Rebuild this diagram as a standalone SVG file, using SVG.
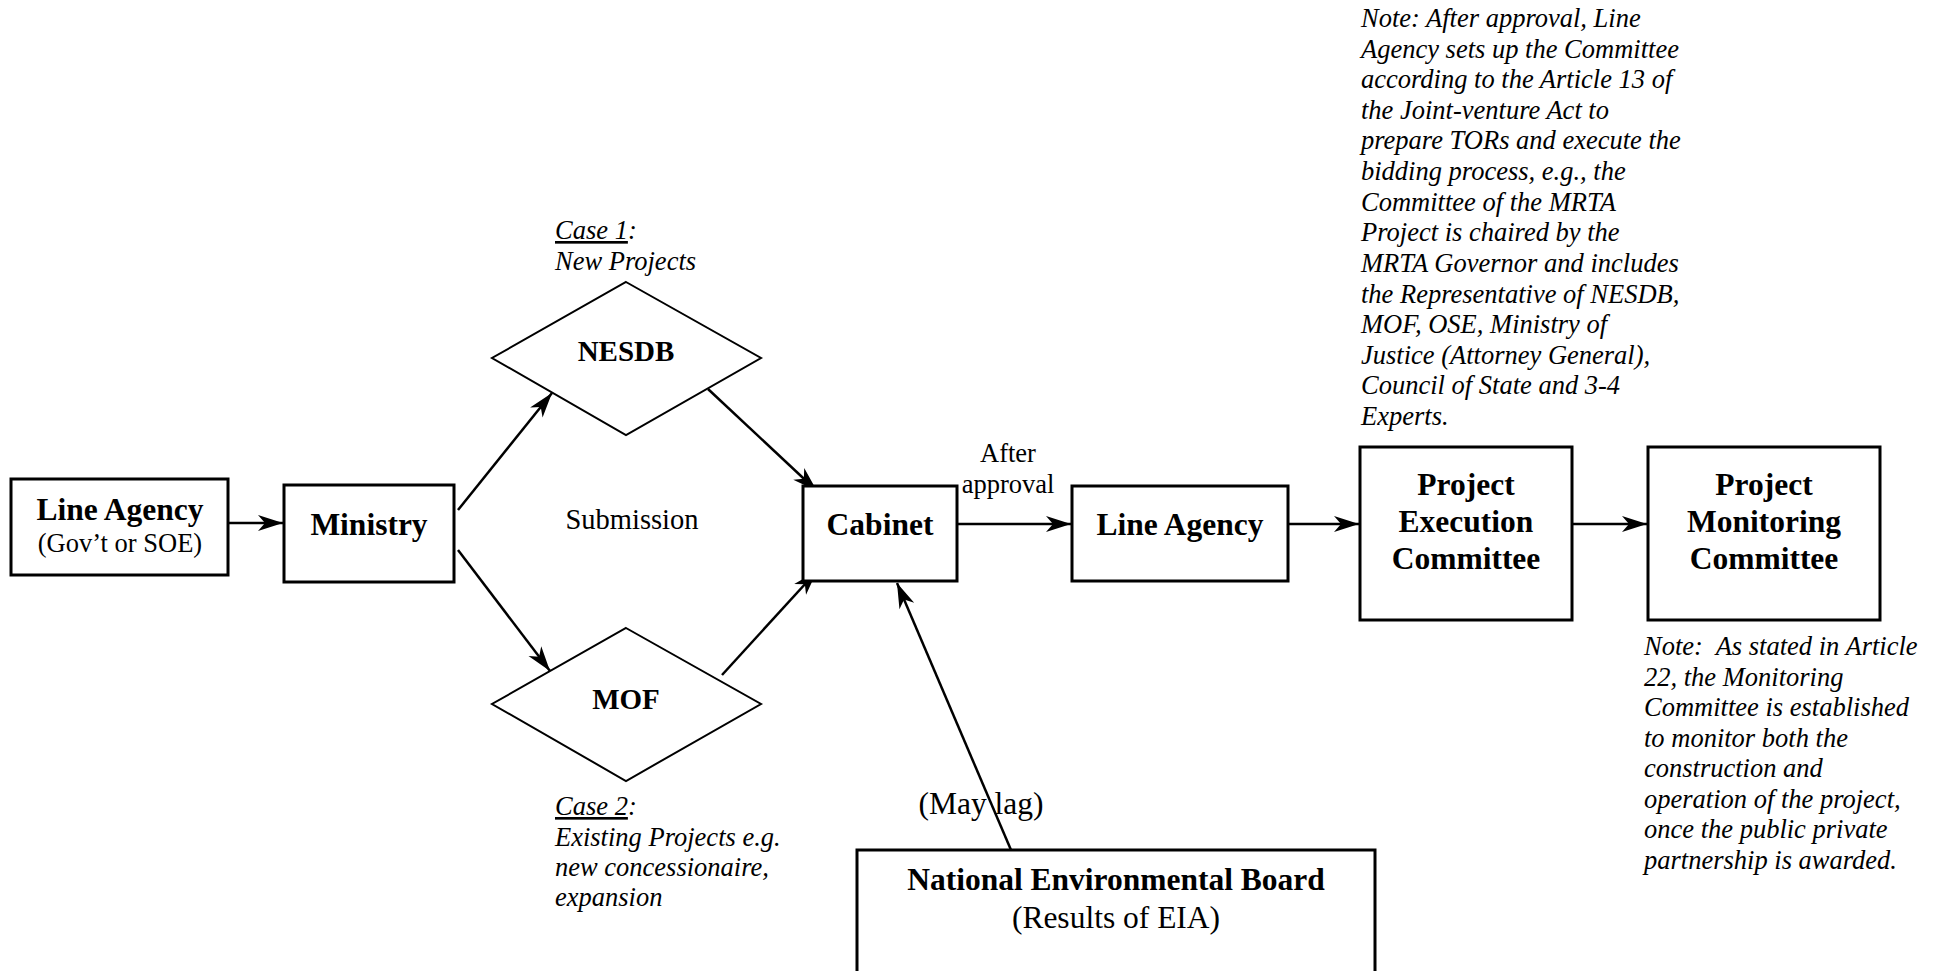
<svg xmlns="http://www.w3.org/2000/svg" width="1939" height="971" viewBox="0 0 1939 971">
<style>
text{font-family:"Liberation Serif","Times New Roman",serif;fill:#000}
.b{font-weight:bold;font-size:31.5px;text-anchor:middle}
.bd{font-weight:bold;font-size:29px;text-anchor:middle}
.r{font-size:26.5px;text-anchor:middle}
.rl{font-size:31.5px;text-anchor:middle}
.it{font-style:italic;font-size:26.5px}
.box{fill:#fff;stroke:#000;stroke-width:3}
.dia{fill:#fff;stroke:#000;stroke-width:2}
.con{fill:none;stroke:#000;stroke-width:2.5}
</style>
<defs>
<marker id="ah" markerUnits="userSpaceOnUse" markerWidth="30" markerHeight="20" viewBox="-26 -10 28 20" refX="0" refY="0" orient="auto">
<path d="M0,0 L-25,-8 L-18,0 L-25,8 Z" fill="#000"/>
</marker>
</defs>
<rect width="1939" height="971" fill="#fff"/>

<g id="connectors">
<line class="con" x1="228" y1="523" x2="283" y2="523" marker-end="url(#ah)"/>
<line class="con" x1="458" y1="510" x2="552" y2="393" marker-end="url(#ah)"/>
<line class="con" x1="458" y1="550" x2="550" y2="671" marker-end="url(#ah)"/>
<line class="con" x1="708" y1="389" x2="817" y2="491" marker-end="url(#ah)"/>
<line class="con" x1="722" y1="675" x2="817" y2="571" marker-end="url(#ah)"/>
<line class="con" x1="957" y1="524" x2="1071" y2="524" marker-end="url(#ah)"/>
<line class="con" x1="1284" y1="524" x2="1359" y2="524" marker-end="url(#ah)"/>
<line class="con" x1="1572" y1="524" x2="1647" y2="524" marker-end="url(#ah)"/>
<line class="con" x1="1011" y1="850" x2="897" y2="583" marker-end="url(#ah)"/>
</g>

<g id="line-agency-1">
<rect class="box" x="11" y="479" width="217" height="96"/>
<text class="b" x="120" y="520">Line Agency</text>
<text class="r" x="120" y="552">(Gov’t or SOE)</text>
</g>

<g id="ministry">
<rect class="box" x="284" y="485" width="170" height="97"/>
<text class="b" x="369" y="535">Ministry</text>
</g>

<g id="case1-label">
<text class="it" x="555" y="239"><tspan text-decoration="underline">Case 1</tspan>:</text>
<text class="it" x="555" y="270">New Projects</text>
</g>

<g id="nesdb">
<polygon class="dia" points="626,282 761,358 626,435 492,358"/>
<text class="bd" x="626" y="361">NESDB</text>
</g>

<g id="mof">
<polygon class="dia" points="626,628 761,704 626,781 492,704"/>
<text class="bd" x="626" y="709">MOF</text>
</g>

<g id="case2-label">
<text class="it" x="555" y="815"><tspan text-decoration="underline">Case 2</tspan>:</text>
<text class="it" x="555" y="846">Existing Projects e.g.</text>
<text class="it" x="555" y="876">new concessionaire,</text>
<text class="it" x="555" y="906">expansion</text>
</g>

<g id="submission-label">
<text x="632" y="529" style="font-size:28.5px;text-anchor:middle">Submission</text>
</g>

<g id="cabinet">
<rect class="box" x="803" y="486" width="154" height="95"/>
<text class="b" x="880" y="535">Cabinet</text>
</g>

<g id="after-approval-label">
<text class="r" x="1008" y="462">After</text>
<text class="r" x="1008" y="493">approval</text>
</g>

<g id="line-agency-2">
<rect class="box" x="1072" y="486" width="216" height="95"/>
<text class="b" x="1180" y="535">Line Agency</text>
</g>

<g id="project-execution-committee">
<rect class="box" x="1360" y="447" width="212" height="173"/>
<text class="b" x="1466" y="495">Project</text>
<text class="b" x="1466" y="532">Execution</text>
<text class="b" x="1466" y="569">Committee</text>
</g>

<g id="project-monitoring-committee">
<rect class="box" x="1648" y="447" width="232" height="173"/>
<text class="b" x="1764" y="495">Project</text>
<text class="b" x="1764" y="532">Monitoring</text>
<text class="b" x="1764" y="569">Committee</text>
</g>

<g id="note-execution">
<text class="it" x="1361" y="27">Note: After approval, Line</text>
<text class="it" x="1361" y="58">Agency sets up the Committee</text>
<text class="it" x="1361" y="88">according to the Article 13 of</text>
<text class="it" x="1361" y="119">the Joint-venture Act to</text>
<text class="it" x="1361" y="149">prepare TORs and execute the</text>
<text class="it" x="1361" y="180">bidding process, e.g., the</text>
<text class="it" x="1361" y="211">Committee of the MRTA</text>
<text class="it" x="1361" y="241">Project is chaired by the</text>
<text class="it" x="1361" y="272">MRTA Governor and includes</text>
<text class="it" x="1361" y="303">the Representative of NESDB,</text>
<text class="it" x="1361" y="333">MOF, OSE, Ministry of</text>
<text class="it" x="1361" y="364">Justice (Attorney General),</text>
<text class="it" x="1361" y="394">Council of State and 3-4</text>
<text class="it" x="1361" y="425">Experts.</text>
</g>

<g id="note-monitoring">
<text class="it" x="1644" y="655" style="white-space:pre">Note:  As stated in Article</text>
<text class="it" x="1644" y="686">22, the Monitoring</text>
<text class="it" x="1644" y="716">Committee is established</text>
<text class="it" x="1644" y="747">to monitor both the</text>
<text class="it" x="1644" y="777">construction and</text>
<text class="it" x="1644" y="808">operation of the project,</text>
<text class="it" x="1644" y="838">once the public private</text>
<text class="it" x="1644" y="869">partnership is awarded.</text>
</g>

<g id="may-lag-label">
<text class="rl" x="981" y="814">(May lag)</text>
</g>

<g id="national-environmental-board">
<rect class="box" x="857" y="850" width="518" height="140"/>
<text class="b" x="1116" y="890">National Environmental Board</text>
<text class="rl" x="1116" y="928">(Results of EIA)</text>
</g>
</svg>
